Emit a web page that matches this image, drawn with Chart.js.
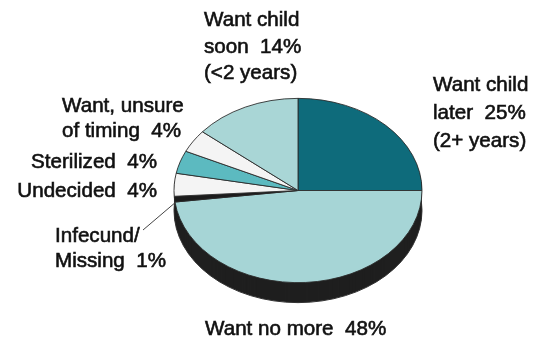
<!DOCTYPE html>
<html>
<head>
<meta charset="utf-8">
<script src="https://cdn.jsdelivr.net/npm/chart.js@4.4.1/dist/chart.umd.min.js"></script>
<style>
  body { margin: 0; background: #fff; }
  #wrap { position: relative; width: 534px; height: 345px; overflow: hidden; }
  #pie { position: absolute; left: 0; top: 0; }
  .lbl {
    position: absolute;
    font-family: "Liberation Sans", Arial, sans-serif;
    font-size: 20.6px;
    color: #111;
    white-space: pre;
    -webkit-text-stroke: 0.6px #111;
  }
</style>
</head>
<body>
<div id="wrap">
  <canvas id="pie" width="534" height="345"></canvas>
</div>
<script>
// slices clockwise from 12 o'clock
const categorias = [
  "Want child later (2+ years)",
  "Want no more",
  "Infecund/Missing",
  "Undecided",
  "Sterilized",
  "Want, unsure of timing",
  "Want child soon (<2 years)"
];
const porcentajes = [25, 48, 1, 4, 4, 4, 14];
const colores = ["#0e6b7b", "#a6d5d6", "#1b1b1b", "#f4f4f4", "#5cbac0", "#f4f4f4", "#a9d6d6"];

// text around the pie, "#" gets the slice's share
const lineasEtiqueta = [
  ["Want child", "later  #", "(2+ years)"],
  ["Want no more  #"],
  ["Infecund/", "Missing  #"],
  ["Undecided  #"],
  ["Sterilized  #"],
  ["Want, unsure", "of timing  #"],
  ["Want child", "soon  #", "(<2 years)"]
];

// where each label block goes
const ubicaciones = [
  { left: 433, top: 70, lh: 28 },
  { left: 205, top: 315, lh: 26 },
  { left: 55, top: 222, lh: 25 },
  { right: 377, top: 177, lh: 26 },
  { right: 377, top: 148, lh: 26 },
  { left: 62, top: 92, lh: 25 },
  { left: 204, top: 6, lh: 26.7 }
];

const CARA_Y = 190.5;     // center of the top face on screen
const APLASTE = 92.5 / 124.5;
const GROSOR = 20;
const COLOR_LADO = "#1f1f1f";

const wrap = document.getElementById("wrap");
lineasEtiqueta.forEach((lineas, i) => {
  const div = document.createElement("div");
  div.className = "lbl";
  const u = ubicaciones[i];
  div.style.top = u.top + "px";
  div.style.lineHeight = u.lh + "px";
  if (u.right !== undefined) {
    div.style.right = u.right + "px";
    div.style.textAlign = "right";
  } else {
    div.style.left = u.left + "px";
  }
  div.textContent = lineas.map(l => l.replace("#", porcentajes[i] + "%")).join("\n");
  wrap.appendChild(div);
});

function inclinar(ctx, x, y, dy) {
  ctx.translate(x, CARA_Y + dy);
  ctx.scale(1, APLASTE);
  ctx.translate(-x, -y);
}

// squashes the pie into an ellipse and puts a dark wall under it
const pie3d = {
  id: "pie3d",
  beforeDatasetsDraw(chart) {
    const ctx = chart.ctx;
    const arcos = chart.getDatasetMeta(0).data;
    const { x, y, outerRadius } = arcos[0];

    for (let d = GROSOR; d > 0; d--) {
      ctx.save();
      inclinar(ctx, x, y, d);
      ctx.beginPath();
      ctx.arc(x, y, outerRadius, 0, Math.PI * 2);
      ctx.fillStyle = COLOR_LADO;
      ctx.fill();
      ctx.restore();
    }
    ctx.save();
    inclinar(ctx, x, y, GROSOR);
    ctx.beginPath();
    ctx.arc(x, y, outerRadius, 0, Math.PI * 2);
    ctx.restore();
    ctx.strokeStyle = "#333";
    ctx.lineWidth = 1;
    ctx.stroke();

    ctx.save();
    inclinar(ctx, x, y, 0);
  },
  afterDatasetsDraw(chart) {
    const ctx = chart.ctx;
    ctx.restore();

    // leader line to the Infecund/Missing slice
    const a = chart.getDatasetMeta(0).data[2];
    const medio = (a.startAngle + a.endAngle) / 2;
    const px = a.x + a.outerRadius * Math.cos(medio);
    const py = CARA_Y + APLASTE * a.outerRadius * Math.sin(medio) + 4;
    ctx.save();
    ctx.beginPath();
    ctx.moveTo(143, 230);
    ctx.lineTo(px, py);
    ctx.strokeStyle = "#444";
    ctx.lineWidth = 1;
    ctx.stroke();
    ctx.restore();
  }
};

new Chart(document.getElementById("pie"), {
  type: "pie",
  data: {
    labels: categorias,
    datasets: [{
      data: porcentajes,
      backgroundColor: colores,
      borderColor: "#2a2a2a",
      borderWidth: 1,
      clip: false
    }]
  },
  options: {
    responsive: false,
    animation: false,
    events: [],
    layout: { padding: { left: 173.5, right: 111.5, top: 48, bottom: 48 } },
    plugins: {
      legend: { display: false },
      tooltip: { enabled: false }
    }
  },
  plugins: [pie3d]
});
</script>
</body>
</html>
